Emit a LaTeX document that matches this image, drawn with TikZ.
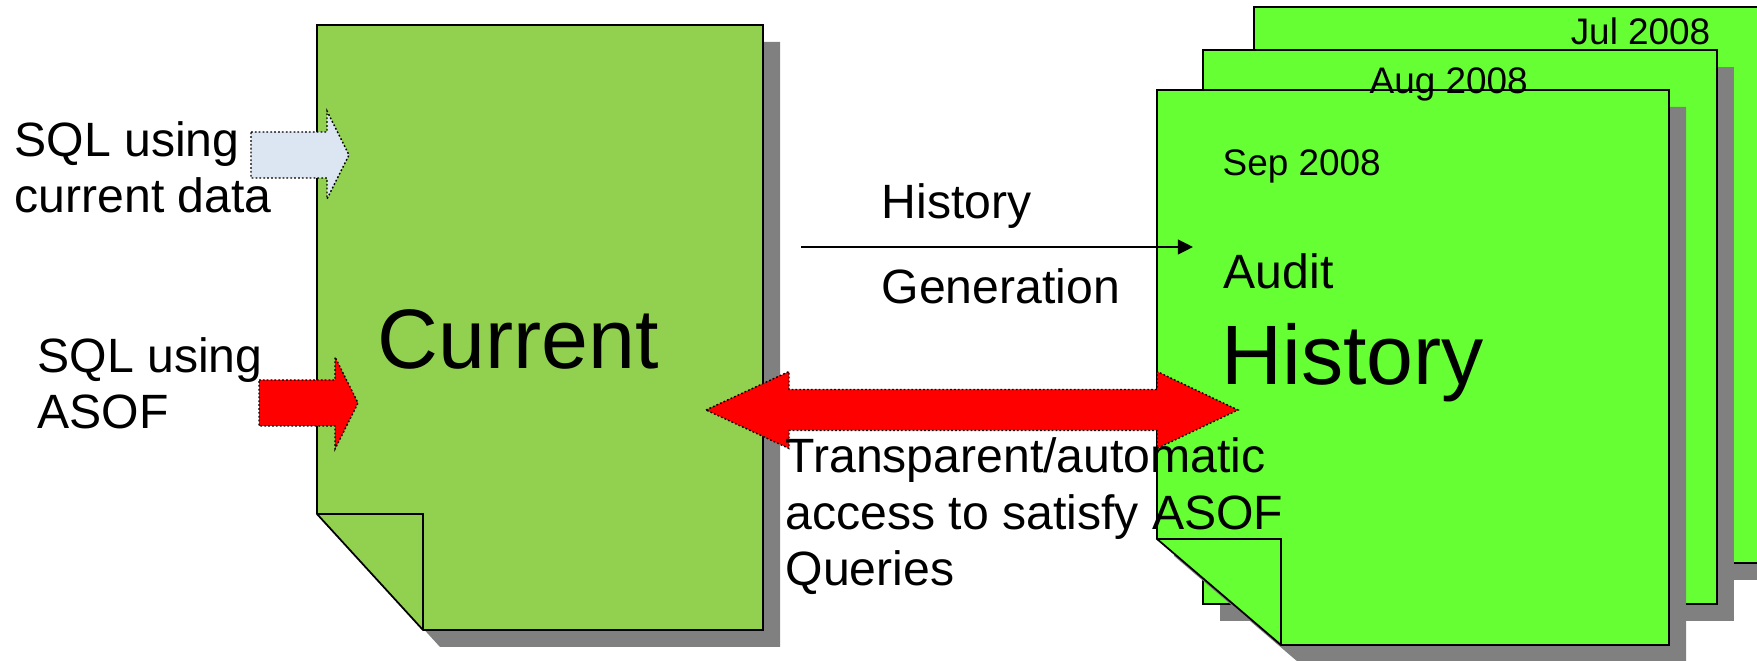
\documentclass[tikz,border=0pt]{standalone}
\usepackage{fontspec}
\setmainfont{Liberation Sans}
\usepackage{tikz}
\usetikzlibrary{arrows.meta}
\definecolor{dbcurrent}{HTML}{92D050}
\definecolor{dbhistory}{HTML}{66FF33}
\definecolor{dbshadow}{HTML}{808080}
\definecolor{dbquery}{HTML}{DCE6F2}
\definecolor{dbasof}{HTML}{FF0000}

\begin{document}
\begin{tikzpicture}[x=1cm,y=1cm,
    page/.style={draw=black,line width=0.5pt},
    pageshadow/.style={fill=dbshadow,draw=none,shift={(0.17,-0.17)}},
    blockarrow/.style={draw=black,line width=0.4pt,dash pattern=on 0.5pt off 0.6pt},
    txt/.style={inner sep=0pt,anchor=base west,align=left,font=\fontsize{13.7}{16.1}\selectfont},
    smalltxt/.style={inner sep=0pt,anchor=base west,font=\fontsize{10.5}{12.6}\selectfont},
    bigtxt/.style={inner sep=0pt,anchor=base west,font=\fontsize{24}{28.8}\selectfont}]
  \useasboundingbox (0,0) rectangle (17.57,6.61);
  \clip (0,0) rectangle (17.57,6.61);

  % current table, folded corner bottom left
  \fill[pageshadow] (3.17,6.36) -- (7.63,6.36) -- (7.63,0.31) -- (4.23,0.31) -- (3.17,1.47) -- cycle;
  \draw[page,fill=dbcurrent] (3.17,6.36) -- (7.63,6.36) -- (7.63,0.31) -- (4.23,0.31) -- (3.17,1.47) -- cycle;
  \draw[page] (3.17,1.47) -- (4.23,1.47) -- (4.23,0.31);

  % monthly history pages, oldest at the back
  \fill[pageshadow] (12.54,0.98) rectangle (17.70,6.54);
  \draw[page,fill=dbhistory] (12.54,0.98) rectangle (17.70,6.54);
  \fill[pageshadow] (12.03,0.57) rectangle (17.17,6.11);
  \draw[page,fill=dbhistory] (12.03,0.57) rectangle (17.17,6.11);
  \fill[pageshadow] (11.57,5.71) -- (16.69,5.71) -- (16.69,0.16) -- (12.81,0.16) -- (11.57,1.22) -- cycle;
  \draw[page,fill=dbhistory] (11.57,5.71) -- (16.69,5.71) -- (16.69,0.16) -- (12.81,0.16) -- (11.57,1.22) -- cycle;
  \draw[page] (11.57,1.22) -- (12.81,1.22) -- (12.81,0.16);

  % query arrows
  \draw[blockarrow,fill=dbquery] (2.51,5.29) -- (3.27,5.29) -- (3.27,5.50) -- (3.49,5.06)
    -- (3.27,4.62) -- (3.27,4.83) -- (2.51,4.83) -- cycle;
  \draw[blockarrow,fill=dbasof] (2.59,2.81) -- (3.35,2.81) -- (3.35,3.04) -- (3.58,2.58)
    -- (3.35,2.12) -- (3.35,2.35) -- (2.59,2.35) -- cycle;
  \draw[blockarrow,fill=dbasof] (7.06,2.51) -- (7.89,2.895) -- (7.89,2.715) -- (11.57,2.715)
    -- (11.57,2.895) -- (12.38,2.51) -- (11.57,2.125) -- (11.57,2.305) -- (7.89,2.305)
    -- (7.89,2.125) -- cycle;

  % history generation
  \coordinate (genfrom) at (8.01,4.14);
  \coordinate (gento) at (11.93,4.14);
  \draw[line width=0.6pt,-{Triangle[length=4.3pt,width=4.2pt]}] (genfrom) -- (gento);

  % base of a multi-line label is its last line
  \node[txt] (sqlcur) at (0.14,4.48) {SQL using\\current data};
  \node[txt] (sqlasof) at (0.37,2.32) {SQL using\\ASOF};
  \node[bigtxt] (curlbl) at (3.77,2.92) {Current};
  \node[txt] (histlbl) at (8.81,4.42) {History};
  \node[txt] (genlbl) at (8.81,3.57) {Generation};
  \node[txt] (asoflbl) at (7.85,0.75) {Transparent/automatic\\access to satisfy ASOF\\Queries};
  \node[smalltxt,anchor=base east] (jullbl) at (17.11,6.16) {Jul 2008};
  \node[smalltxt] (auglbl) at (13.69,5.67) {Aug 2008};
  \node[smalltxt] (seplbl) at (12.22,4.85) {Sep 2008};
  \node[txt] (auditlbl) at (12.23,3.72) {Audit};
  \node[bigtxt] (histbig) at (12.21,2.76) {History};
\end{tikzpicture}
\end{document}
